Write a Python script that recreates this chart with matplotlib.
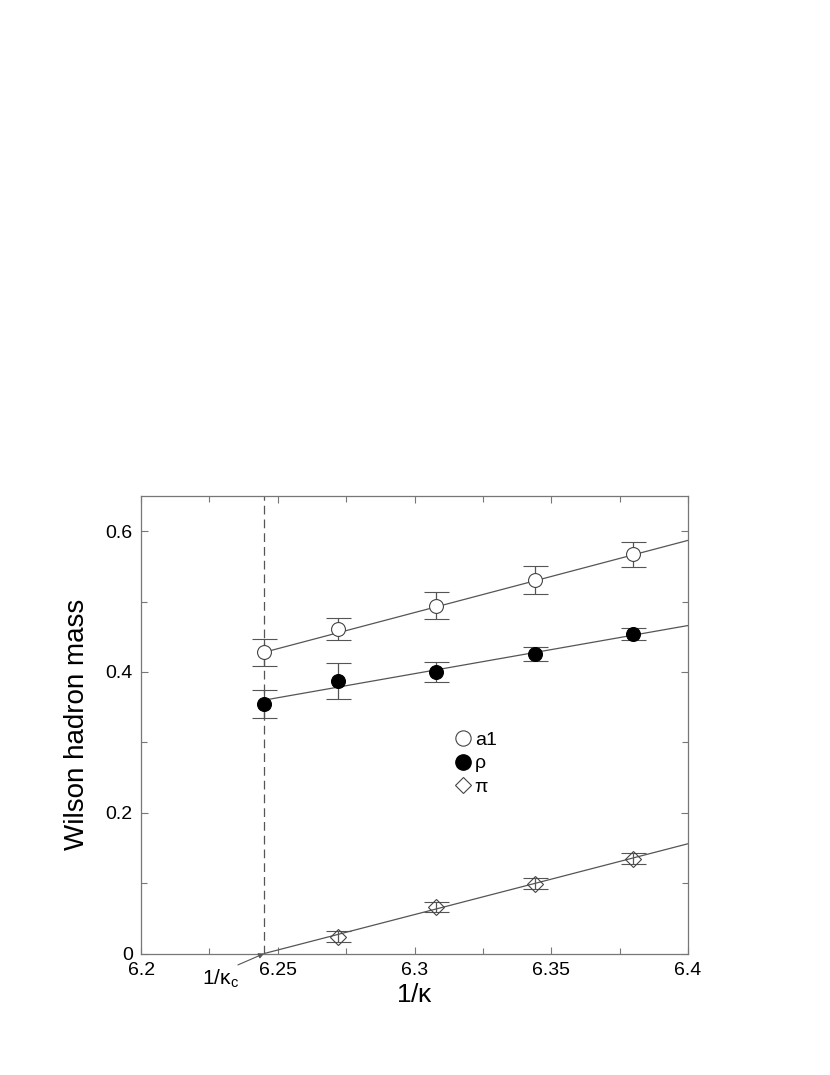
import matplotlib
matplotlib.use("Agg")
import matplotlib.pyplot as plt
from matplotlib.lines import Line2D
import numpy as np

# ---- data ----
x_a1 = [6.245, 6.272, 6.308, 6.344, 6.380]
y_a1 = [0.428, 0.461, 0.494, 0.531, 0.567]
e_a1 = [0.019, 0.016, 0.019, 0.020, 0.018]

x_rho = [6.245, 6.272, 6.308, 6.344, 6.380]
y_rho = [0.354, 0.387, 0.400, 0.426, 0.454]
e_rho = [0.020, 0.026, 0.014, 0.010, 0.008]

x_pi = [6.272, 6.308, 6.344, 6.380]
y_pi = [0.024, 0.066, 0.099, 0.135]
e_pi = [0.0075, 0.0076, 0.008, 0.008]

inv_kappa_c = 6.245
# linear fits: value at 1/kappa_c and at 6.4
fit_x = [6.245, 6.4]
fit_a1 = [0.428, 0.587]
fit_rho = [0.360, 0.466]
fit_pi = [0.0, 0.156]

xticks = [6.2, 6.25, 6.3, 6.35, 6.4]
xticklabels = ["6.2", "6.25", "6.3", "6.35", "6.4"]
yticks = [0, 0.2, 0.4, 0.6]
yticklabels = ["0", "0.2", "0.4", "0.6"]

plt.rcParams['font.family'] = ['Liberation Sans', 'DejaVu Sans']

fig = plt.figure(figsize=(8.3, 10.75), dpi=100)
ax = fig.add_axes([0.170, 0.113, 0.659, 0.4256])

lc = '#555555'
# fit lines
for fy in (fit_a1, fit_rho, fit_pi):
    ax.plot(fit_x, fy, color=lc, lw=0.9, zorder=2)

# dashed vertical line at 1/kappa_c
ax.axvline(inv_kappa_c, color=lc, lw=0.9, ls=(0, (7, 4)), zorder=1)

ekw = dict(ecolor=lc, elinewidth=0.9, capsize=9, capthick=0.9, ls='none', zorder=3)
ax.errorbar(x_a1, y_a1, yerr=e_a1, fmt='o', ms=10, mfc='white', mec='#444444', mew=0.8, **ekw)
ax.errorbar(x_rho, y_rho, yerr=e_rho, fmt='o', ms=10, mfc='black', mec='black', mew=0.8, **ekw)
ax.errorbar(x_pi, y_pi, yerr=e_pi, fmt='D', ms=8, mfc='none', mec='#444444', mew=0.8, **ekw)

ax.set_xlim(6.2, 6.4)
ax.set_ylim(0, 0.65)
ax.set_xticks(xticks)
ax.set_xticklabels(xticklabels)
ax.set_yticks(yticks)
ax.set_yticklabels(yticklabels)
ax.set_xticks(np.arange(6.225, 6.4, 0.05), minor=True)
ax.set_yticks([0.1, 0.3, 0.5], minor=True)
ax.tick_params(which='both', direction='in', top=True, right=True, colors='#777777',
               labelcolor='black', labelsize=14, width=0.8)
ax.tick_params(which='major', length=5)
ax.tick_params(which='minor', length=4)
ax.tick_params(axis='x', pad=6)
ax.tick_params(axis='y', pad=6)
for s in ax.spines.values():
    s.set_color('#777777')
    s.set_linewidth(0.9)

ax.set_xlabel(r'1/$\mathregular{\kappa}$', fontsize=19, labelpad=3)
ax.set_ylabel('Wilson hadron mass', fontsize=20, labelpad=11)

# annotation
ax.annotate(r'1/$\mathregular{\kappa_c}$', xy=(inv_kappa_c, 0), xycoords='data',
            xytext=(6.229, -0.036), textcoords='data', fontsize=15,
            ha='center', va='center', annotation_clip=False,
            arrowprops=dict(arrowstyle='-|>', color=lc, lw=0.8,
                            mutation_scale=8, shrinkA=0, shrinkB=0,
                            relpos=(0.8, 1.0)))

# legend
handles = [
    Line2D([], [], marker='o', ls='none', ms=11, mfc='white', mec='#444444', mew=0.8),
    Line2D([], [], marker='o', ls='none', ms=11, mfc='black', mec='black'),
    Line2D([], [], marker='D', ls='none', ms=8, mfc='white', mec='#444444', mew=0.8),
]
ax.legend(handles, ['a1', 'ρ', 'π'], loc='upper left', bbox_to_anchor=(0.56, 0.507),
          frameon=False, fontsize=14, handlelength=0.6, handletextpad=0.3,
          labelspacing=0.3, borderpad=0)

fig.savefig('out.png', dpi=100)
